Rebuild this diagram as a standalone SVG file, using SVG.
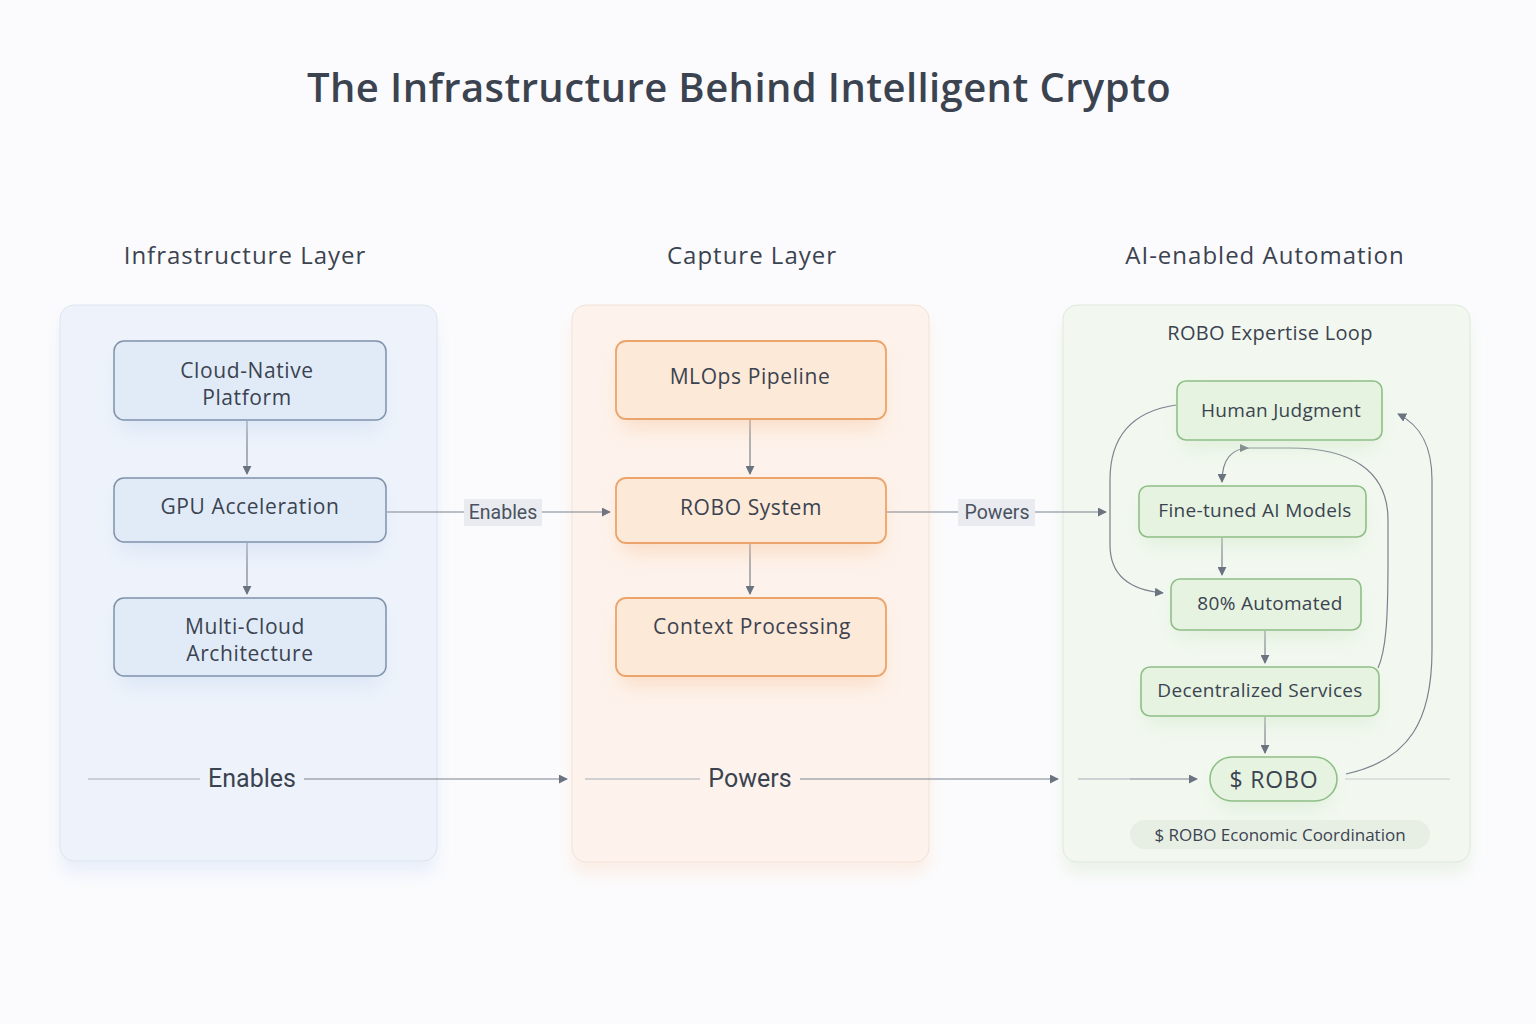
<svg xmlns="http://www.w3.org/2000/svg" width="1536" height="1024" viewBox="0 0 1536 1024">
<defs>
<style>
text{font-family:"Open Sans","Noto Sans",sans-serif;fill:#3b4350;text-anchor:middle;dominant-baseline:central}
.title{font-size:40px;font-weight:600;letter-spacing:0.4px}
.head{font-size:24px;letter-spacing:1px}
.node{font-size:21px;letter-spacing:0.6px}
.sm{font-size:19px;letter-spacing:0.3px}
.lbl{font-family:Roboto,"Liberation Sans",sans-serif;font-size:19.5px;fill:#4a5260}
.big{font-family:Roboto,"Liberation Sans",sans-serif;font-size:25px;fill:#3b4350}
.blue{fill:#e1ebf8;stroke:#7f92aa;stroke-width:1.5}
.orange{fill:#fde9d8;stroke:#eba46c;stroke-width:1.8}
.green{fill:#e6f3e1;stroke:#8fbf87;stroke-width:1.6}
.ln{fill:none;stroke:#7a828e;stroke-width:1.2}
.fl{fill:none;stroke:#a6adb6;stroke-width:1}
</style>
<marker id="ah" viewBox="0 0 10 10" refX="9" refY="5" markerWidth="9" markerHeight="9" markerUnits="userSpaceOnUse" orient="auto">
<path d="M0,0 L10,5 L0,10 Z" fill="#6b7380"/>
</marker>
<filter id="sh" x="-20%" y="-30%" width="140%" height="180%">
<feGaussianBlur stdDeviation="10"/>
</filter>
<filter id="psh" x="-10%" y="-10%" width="120%" height="120%">
<feGaussianBlur stdDeviation="8"/>
</filter>
</defs>
<rect width="1536" height="1024" fill="#fbfbfd"/>
<text class="title" x="739" y="86">The Infrastructure Behind Intelligent Crypto</text>

<g id="panels">
<rect x="60" y="318" width="377" height="556" rx="14" fill="#d8e4f6" opacity="0.5" filter="url(#psh)"/>
<rect x="572" y="318" width="357" height="556" rx="14" fill="#fbe1cf" opacity="0.5" filter="url(#psh)"/>
<rect x="1063" y="318" width="407" height="556" rx="14" fill="#dcebd6" opacity="0.5" filter="url(#psh)"/>
<rect x="60" y="305" width="377" height="556" rx="14" fill="#eef3fb" stroke="#dde4ee" stroke-width="1"/>
<rect x="572" y="305" width="357" height="557" rx="14" fill="#fdf3ec" stroke="#f1e2d8" stroke-width="1"/>
<rect x="1063" y="305" width="407" height="557" rx="14" fill="#f2f8f0" stroke="#dfe9dc" stroke-width="1"/>
<text class="head" x="245" y="254">Infrastructure Layer</text>
<text class="head" x="752" y="254">Capture Layer</text>
<text class="head" x="1265" y="254">AI-enabled Automation</text>
<text class="sm" x="1270" y="332" style="font-size:20px">ROBO Expertise Loop</text>
</g>

<g id="connectors">
<line class="ln" x1="247" y1="421" x2="247" y2="474" marker-end="url(#ah)"/>
<line class="ln" x1="247" y1="543" x2="247" y2="594" marker-end="url(#ah)"/>
<line class="ln" x1="750" y1="420" x2="750" y2="474" marker-end="url(#ah)"/>
<line class="ln" x1="750" y1="544" x2="750" y2="594" marker-end="url(#ah)"/>
<line class="ln" x1="387" y1="512" x2="610" y2="512" marker-end="url(#ah)"/>
<rect x="464" y="499" width="78" height="27" fill="#e9ebf0"/>
<text class="lbl" x="503" y="512">Enables</text>
<line class="ln" x1="887" y1="512" x2="1106" y2="512" marker-end="url(#ah)"/>
<rect x="958" y="499" width="77" height="27" fill="#e9ebf0"/>
<text class="lbl" x="997" y="512">Powers</text>

<line class="fl" x1="88" y1="779" x2="200" y2="779"/>
<line class="ln" x1="304" y1="779" x2="567" y2="779" marker-end="url(#ah)"/>
<text class="big" x="252" y="778">Enables</text>
<line class="fl" x1="585" y1="779" x2="700" y2="779"/>
<line class="ln" x1="800" y1="779" x2="1058" y2="779" marker-end="url(#ah)"/>
<text class="big" x="750" y="778">Powers</text>
<line class="fl" x1="1078" y1="779" x2="1130" y2="779"/>
<line class="ln" x1="1130" y1="779" x2="1197" y2="779" marker-end="url(#ah)"/>
<line class="fl" x1="1345" y1="779" x2="1450" y2="779" opacity="0.6"/>

<path class="ln" d="M1176,405 C1128,412 1110,440 1110,480 L1110,545 C1110,575 1130,590 1163,593" marker-end="url(#ah)"/>
<line class="ln" x1="1222" y1="538" x2="1222" y2="575" marker-end="url(#ah)"/>
<line class="ln" x1="1265" y1="631" x2="1265" y2="663" marker-end="url(#ah)"/>
<line class="ln" x1="1265" y1="717" x2="1265" y2="753" marker-end="url(#ah)"/>
<path class="ln" d="M1378,668 C1386,650 1388,620 1388,560 L1388,520 C1388,470 1350,448 1290,448 L1250,448 C1232,448 1222,458 1222,482" marker-end="url(#ah)"/>
<path d="M1240,444 L1249,448 L1240,452 Z" fill="#6b7380"/>
<path class="ln" d="M1346,774 C1410,760 1432,720 1432,650 L1432,480 C1432,445 1420,425 1398,414" marker-end="url(#ah)"/>
</g>

<g id="n-cloud">
<rect x="118" y="355" width="264" height="75" rx="10" fill="#c9d9f0" opacity="0.5" filter="url(#sh)"/>
<rect class="blue" x="114" y="341" width="272" height="79" rx="10"/>
<text class="node" x="247" y="370">Cloud-Native</text>
<text class="node" x="247" y="397">Platform</text>
</g>
<g id="n-gpu">
<rect x="118" y="490" width="264" height="62" rx="10" fill="#c9d9f0" opacity="0.5" filter="url(#sh)"/>
<rect class="blue" x="114" y="478" width="272" height="64" rx="10"/>
<text class="node" x="250" y="506">GPU Acceleration</text>
</g>
<g id="n-multi">
<rect x="118" y="612" width="264" height="74" rx="10" fill="#c9d9f0" opacity="0.5" filter="url(#sh)"/>
<rect class="blue" x="114" y="598" width="272" height="78" rx="10"/>
<text class="node" x="245" y="626">Multi-Cloud</text>
<text class="node" x="250" y="653">Architecture</text>
</g>

<g id="n-mlops">
<rect x="620" y="355" width="262" height="74" rx="10" fill="#f8c8a3" opacity="0.5" filter="url(#sh)"/>
<rect class="orange" x="616" y="341" width="270" height="78" rx="10"/>
<text class="node" x="750" y="376">MLOps Pipeline</text>
</g>
<g id="n-robo">
<rect x="620" y="490" width="262" height="63" rx="10" fill="#f8c8a3" opacity="0.5" filter="url(#sh)"/>
<rect class="orange" x="616" y="478" width="270" height="65" rx="10"/>
<text class="node" x="751" y="507">ROBO System</text>
</g>
<g id="n-context">
<rect x="620" y="612" width="262" height="74" rx="10" fill="#f8c8a3" opacity="0.5" filter="url(#sh)"/>
<rect class="orange" x="616" y="598" width="270" height="78" rx="10"/>
<text class="node" x="752" y="626">Context Processing</text>
</g>

<g id="n-human">
<rect x="1181" y="392" width="197" height="56" rx="9" fill="#cfe6c6" opacity="0.5" filter="url(#sh)"/>
<rect class="green" x="1177" y="381" width="205" height="59" rx="9"/>
<text class="sm" x="1281" y="410">Human Judgment</text>
</g>
<g id="n-fine">
<rect x="1143" y="496" width="219" height="49" rx="9" fill="#cfe6c6" opacity="0.5" filter="url(#sh)"/>
<rect class="green" x="1139" y="486" width="227" height="51" rx="9"/>
<text class="sm" x="1255" y="510">Fine-tuned AI Models</text>
</g>
<g id="n-auto">
<rect x="1175" y="589" width="182" height="49" rx="9" fill="#cfe6c6" opacity="0.5" filter="url(#sh)"/>
<rect class="green" x="1171" y="579" width="190" height="51" rx="9"/>
<text class="sm" x="1270" y="603">80% Automated</text>
</g>
<g id="n-dec">
<rect x="1145" y="677" width="230" height="47" rx="9" fill="#cfe6c6" opacity="0.5" filter="url(#sh)"/>
<rect class="green" x="1141" y="667" width="238" height="49" rx="9"/>
<text class="sm" x="1260" y="690">Decentralized Services</text>
</g>
<g id="n-token">
<rect x="1214" y="767" width="119" height="42" rx="21" fill="#cfe6c6" opacity="0.5" filter="url(#sh)"/>
<rect class="green" x="1210" y="757" width="127" height="44" rx="22"/>
<text x="1274" y="779" style="font-size:23px;letter-spacing:0.8px">$ ROBO</text>
</g>
<g id="n-econ">
<rect x="1130" y="820" width="300" height="29" rx="14.5" fill="#e7efe5"/>
<text x="1280" y="834" style="font-size:17px">$ ROBO Economic Coordination</text>
</g>
</svg>
